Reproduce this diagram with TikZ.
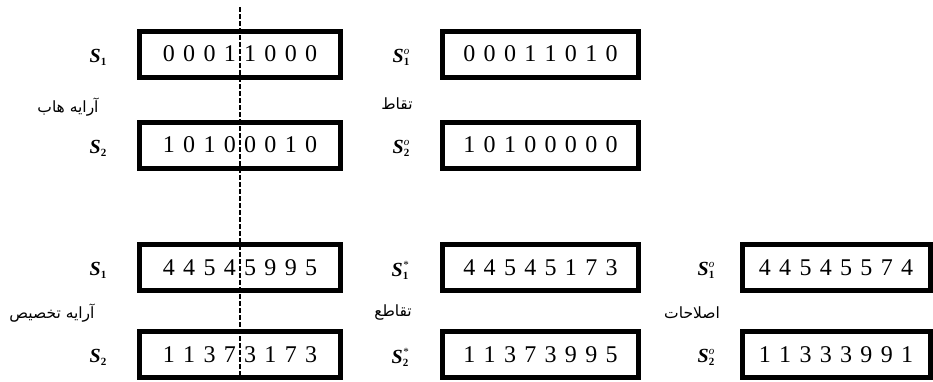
\documentclass[tikz,border=0pt]{standalone}
\usepackage{fontspec}
\setmainfont{Liberation Serif}
\newfontfamily\arabicfont[Script=Arabic]{DejaVu Sans}
\TeXXeTstate=1
\newcommand\slab[2]{{\fontsize{20}{20}\selectfont\bfseries\itshape S}\makebox[0pt][l]{\raisebox{8pt}{\fontsize{11}{11}\selectfont\itshape #2}}\raisebox{-3pt}{\fontsize{11}{11}\selectfont\bfseries #1}}
\newcommand\digs[1]{{\fontsize{24}{24}\selectfont\spaceskip=8.3pt\relax #1}}
\begin{document}
\begin{tikzpicture}[x=1pt,y=-1pt,
  box/.style={draw, line width=5pt, inner sep=0pt, minimum height=46pt},
  wide/.style={minimum width=201pt},
  mid/.style={minimum width=196pt},
  narrow/.style={minimum width=188pt},
  slabel/.style={inner sep=0pt},
  alabel/.style={inner sep=0pt, font=\arabicfont\fontsize{15.5}{15.5}\selectfont},
  cut/.style={line width=1.2pt, dash pattern=on 4.5pt off 2.5pt}]
\useasboundingbox (0,0) rectangle (933,381);
% top group
\node[box,wide] (a1) at (240,54) {\digs{0 0 0 1 1 0 0 0}};
\node[box,wide] (a2) at (240,145) {\digs{1 0 1 0 0 0 1 0}};
\node[box,mid] (b1) at (540.5,54) {\digs{0 0 0 1 1 0 1 0}};
\node[box,mid] (b2) at (540.5,145) {\digs{1 0 1 0 0 0 0 0}};
\node[slabel] (la1) at (98,57) {\slab{1}{}};
\node[slabel] (la2) at (98,148) {\slab{2}{}};
\node[slabel] (lb1) at (401,57) {\slab{1}{o}};
\node[slabel] (lb2) at (401,148) {\slab{2}{o}};
\node[alabel] (ta) at (68,107) {\beginR آرایه هاب\endR};
\node[alabel] (tb) at (397,104) {\beginR تقاط\endR};
% bottom group
\node[box,wide] (c1) at (240,267.5) {\digs{4 4 5 4 5 9 9 5}};
\node[box,wide] (c2) at (240,354.5) {\digs{1 1 3 7 3 1 7 3}};
\node[box,mid] (d1) at (540.5,267.5) {\digs{4 4 5 4 5 1 7 3}};
\node[box,mid] (d2) at (540.5,354.5) {\digs{1 1 3 7 3 9 9 5}};
\node[box,narrow] (e1) at (836,267.5) {\digs{4 4 5 4 5 5 7 4}};
\node[box,narrow] (e2) at (836,354.5) {\digs{1 1 3 3 3 9 9 1}};
\node[slabel] (lc1) at (98,270.5) {\slab{1}{}};
\node[slabel] (lc2) at (98,357.5) {\slab{2}{}};
\node[slabel] (ld1) at (400,270.5) {\slab{1}{*}};
\node[slabel] (ld2) at (400,357.5) {\slab{2}{*}};
\node[slabel] (le1) at (706,270.5) {\slab{1}{o}};
\node[slabel] (le2) at (706,357.5) {\slab{2}{o}};
\node[alabel] (tc) at (52,313) {\beginR آرایه تخصیص\endR};
\node[alabel] (td) at (393,312) {\beginR تقاطع\endR};
\node[alabel] (te) at (692,313) {\beginR اصلاحات\endR};
% dashed cut line
\coordinate (ctop) at (240,7);
\coordinate (cbot) at (240,375);
\draw[cut] (ctop) -- (cbot);
\end{tikzpicture}
\end{document}
